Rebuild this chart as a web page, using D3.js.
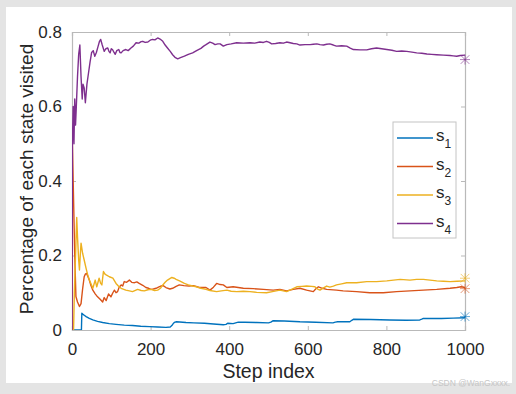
<!DOCTYPE html>
<html>
<head>
<meta charset="utf-8">
<script src="https://cdn.jsdelivr.net/npm/d3@7"></script>
<style>
  html, body { margin: 0; padding: 0; background: #e4e4e4; }
  svg { display: block; font-family: "Liberation Sans", Arial, sans-serif; }
</style>
</head>
<body>
<div id="chart"></div>
<script>
// [step, fraction of visits]
const s1 = [[0,0],[24,0],[25,0.045],[28,0.042],[32,0.039],[36,0.036],[44,0.031],[53,0.027],[65,0.023],[78,0.02],[95,0.017],[112,0.015],[133,0.013],[154,0.012],[175,0.01],[197,0.009],[218,0.008],[239,0.007],[250,0.008],[254,0.012],[258,0.018],[262,0.021],[266,0.022],[290,0.02],[310,0.019],[337,0.018],[360,0.016],[385,0.014],[392,0.015],[396,0.018],[410,0.017],[423,0.021],[440,0.021],[470,0.02],[500,0.019],[506,0.021],[512,0.025],[540,0.024],[580,0.022],[620,0.021],[664,0.019],[670,0.021],[676,0.022],[707,0.022],[712,0.026],[716,0.029],[760,0.028],[809,0.027],[850,0.026],[885,0.027],[890,0.029],[894,0.031],[940,0.031],[970,0.032],[1000,0.033]];
const s2 = [[0,0],[1,0.5],[3,0.4],[5,0.3],[7,0.2],[10,0.09],[14,0.075],[19,0.063],[23,0.071],[27,0.11],[31,0.143],[34,0.15],[37,0.152],[40,0.145],[44,0.134],[48,0.12],[53,0.107],[59,0.097],[65,0.089],[71,0.083],[78,0.075],[82,0.087],[87,0.079],[93,0.097],[99,0.089],[104,0.1],[108,0.107],[112,0.1],[116,0.103],[120,0.115],[125,0.121],[129,0.118],[133,0.13],[139,0.128],[146,0.134],[152,0.128],[159,0.127],[165,0.129],[171,0.125],[180,0.12],[188,0.114],[195,0.112],[201,0.109],[207,0.11],[214,0.112],[220,0.115],[226,0.118],[232,0.119],[239,0.114],[249,0.11],[256,0.112],[265,0.117],[273,0.121],[285,0.119],[298,0.118],[309,0.119],[324,0.114],[341,0.114],[351,0.107],[360,0.115],[368,0.125],[377,0.122],[385,0.121],[394,0.114],[410,0.116],[436,0.112],[461,0.111],[487,0.109],[512,0.107],[529,0.109],[546,0.105],[563,0.109],[580,0.112],[597,0.107],[614,0.103],[620,0.11],[627,0.116],[637,0.112],[648,0.109],[673,0.107],[690,0.105],[724,0.103],[758,0.1],[792,0.1],[826,0.103],[860,0.105],[894,0.107],[928,0.109],[962,0.112],[979,0.114],[990,0.116],[1000,0.114]];
const s3 = [[0,0],[4,0],[6,0.1],[9,0.2],[12,0.302],[14,0.25],[17,0.188],[19,0.161],[21,0.2],[23,0.233],[27,0.206],[31,0.188],[36,0.165],[40,0.148],[44,0.135],[48,0.125],[53,0.112],[59,0.134],[63,0.116],[69,0.139],[73,0.125],[76,0.121],[80,0.157],[84,0.15],[87,0.148],[95,0.143],[104,0.139],[112,0.125],[118,0.118],[125,0.112],[137,0.107],[146,0.105],[154,0.103],[167,0.109],[176,0.106],[184,0.105],[193,0.108],[201,0.109],[210,0.106],[218,0.107],[225,0.112],[231,0.121],[237,0.128],[243,0.134],[249,0.138],[254,0.141],[260,0.139],[265,0.136],[275,0.131],[286,0.125],[296,0.121],[307,0.118],[317,0.116],[328,0.112],[341,0.109],[351,0.106],[368,0.103],[380,0.105],[394,0.107],[405,0.104],[419,0.103],[436,0.104],[453,0.103],[470,0.101],[495,0.1],[510,0.103],[529,0.107],[546,0.103],[560,0.11],[572,0.116],[585,0.117],[597,0.118],[610,0.117],[618,0.116],[625,0.11],[631,0.107],[640,0.113],[648,0.118],[656,0.115],[665,0.118],[673,0.121],[686,0.124],[699,0.127],[724,0.127],[750,0.13],[775,0.13],[801,0.132],[818,0.134],[835,0.136],[860,0.134],[877,0.136],[894,0.136],[911,0.134],[928,0.132],[945,0.131],[962,0.13],[980,0.131],[1000,0.132]];
const s4 = [[0,0],[1,0.5],[3,0.6],[5,0.5],[7,0.62],[9,0.55],[11,0.6],[14,0.68],[17,0.74],[20,0.765],[23,0.68],[26,0.62],[28,0.66],[31,0.65],[34,0.61],[38,0.66],[42,0.69],[46,0.72],[50,0.745],[54,0.75],[58,0.735],[62,0.745],[66,0.76],[70,0.775],[73,0.78],[77,0.765],[82,0.748],[86,0.755],[91,0.757],[94,0.748],[97,0.744],[100,0.755],[103,0.753],[107,0.745],[110,0.74],[114,0.75],[119,0.753],[122,0.745],[125,0.744],[130,0.75],[137,0.753],[143,0.75],[150,0.757],[156,0.762],[163,0.771],[170,0.77],[176,0.774],[180,0.775],[186,0.772],[193,0.773],[199,0.778],[205,0.78],[211,0.779],[218,0.784],[224,0.781],[231,0.775],[237,0.765],[243,0.757],[250,0.748],[256,0.739],[262,0.732],[269,0.728],[276,0.731],[286,0.735],[296,0.74],[307,0.744],[317,0.75],[328,0.756],[335,0.762],[341,0.766],[351,0.773],[358,0.77],[364,0.766],[371,0.768],[377,0.768],[385,0.762],[394,0.766],[405,0.768],[419,0.771],[436,0.77],[453,0.771],[465,0.77],[478,0.773],[487,0.772],[495,0.775],[502,0.772],[508,0.768],[518,0.769],[529,0.771],[538,0.77],[546,0.773],[555,0.771],[563,0.769],[572,0.768],[580,0.765],[593,0.766],[606,0.766],[614,0.767],[623,0.768],[631,0.766],[640,0.765],[648,0.767],[656,0.768],[665,0.765],[673,0.762],[686,0.763],[699,0.762],[708,0.757],[716,0.753],[733,0.752],[750,0.752],[762,0.755],[775,0.757],[788,0.755],[801,0.753],[814,0.751],[826,0.748],[839,0.749],[852,0.748],[865,0.746],[877,0.744],[890,0.743],[903,0.741],[915,0.74],[928,0.739],[945,0.738],[962,0.737],[970,0.736],[979,0.735],[988,0.737],[1000,0.738]];

// stationary values marked with '*' at the last step
const finalMarks = [0.036, 0.111, 0.139, 0.726];

const seriesNames = ['1', '2', '3', '4'];
const colors = ['#0072BD', '#D95319', '#EDB120', '#7E2F8E'];
const xTicks = [0, 200, 400, 600, 800, 1000];
const yTicks = [0, 0.2, 0.4, 0.6, 0.8];

const W = 516, H = 394;
const margin = { top: 32, right: 51, bottom: 64, left: 72 };
const width = W - margin.left - margin.right;
const height = H - margin.top - margin.bottom;

const svg = d3.select('#chart').append('svg')
  .attr('width', W)
  .attr('height', H);

// white panel of the screenshot
svg.append('rect')
  .attr('x', 6).attr('y', 7)
  .attr('width', 506).attr('height', 376)
  .attr('fill', '#ffffff');

const g = svg.append('g')
  .attr('transform', `translate(${margin.left},${margin.top})`);

const x = d3.scaleLinear().domain([0, 1000]).range([0, width]);
const y = d3.scaleLinear().domain([0, 0.8]).range([height, 0]);

const axisCol = '#b9b9b9';
const fmtY = d => d === 0 ? '0' : d3.format('.1f')(d);

// box axes, ticks pointing inwards (MATLAB style)
const xb = g.append('g').attr('transform', `translate(0,${height})`)
  .call(d3.axisBottom(x).tickValues(xTicks).tickSize(-4).tickPadding(10).tickFormat(d3.format('d')));
const xt = g.append('g')
  .call(d3.axisTop(x).tickValues(xTicks).tickSize(-4).tickFormat(''));
const yl = g.append('g')
  .call(d3.axisLeft(y).tickValues(yTicks).tickSize(-4).tickPadding(10).tickFormat(fmtY));
const yr = g.append('g').attr('transform', `translate(${width},0)`)
  .call(d3.axisRight(y).tickValues(yTicks).tickSize(-4).tickFormat(''));

[xb, xt, yl, yr].forEach(a => {
  a.select('.domain').attr('stroke', axisCol).attr('stroke-width', 1.2);
  a.selectAll('.tick line').attr('stroke', axisCol);
  a.selectAll('.tick text').attr('fill', '#262626').style('font-size', '17px');
});
xb.selectAll('.tick text').attr('dy', '0.9em');

const line = d3.line()
  .x(d => x(d[0]))
  .y(d => y(d[1]));

g.append('clipPath').attr('id', 'plotclip')
  .append('rect').attr('width', width).attr('height', height);

const allSeries = [s1, s2, s3, s4];
const lines = g.append('g').attr('clip-path', 'url(#plotclip)');
allSeries.forEach((s, i) => {
  lines.append('path')
    .datum(s)
    .attr('fill', 'none')
    .attr('stroke', colors[i])
    .attr('stroke-width', 1.4)
    .attr('stroke-linejoin', 'round')
    .attr('d', line);
});

// asterisk markers at step 1000
finalMarks.forEach((v, i) => {
  const m = g.append('g')
    .attr('transform', `translate(${x(1000)},${y(v)})`)
    .attr('fill', 'none')
    .attr('stroke', colors[i])
    .attr('stroke-opacity', 0.6)
    .attr('stroke-width', 1);
  m.append('path').attr('d', d3.symbol().type(d3.symbolTimes).size(50)());
  m.append('path').attr('d', 'M-5,0H5M0,-5V5');
});

// legend
const legend = g.append('g').attr('transform', `translate(${393 - margin.left},${122 - margin.top})`);
legend.append('rect')
  .attr('width', 63).attr('height', 116)
  .attr('fill', '#ffffff')
  .attr('stroke', '#c4c4c4');
seriesNames.forEach((n, i) => {
  const ly = 16 + i * 28.5;
  legend.append('line')
    .attr('x1', 4).attr('x2', 40)
    .attr('y1', ly).attr('y2', ly)
    .attr('stroke', colors[i]).attr('stroke-width', 1.5);
  const t = legend.append('text')
    .attr('x', 43).attr('y', ly + 3)
    .attr('fill', '#262626')
    .style('font-size', '17px');
  t.append('tspan').text('s');
  t.append('tspan').attr('dy', 7).style('font-size', '12px').text(n);
});

// axis titles
g.append('text')
  .attr('x', width / 2)
  .attr('y', height + 48)
  .attr('text-anchor', 'middle')
  .attr('fill', '#262626')
  .style('font-size', '19.5px')
  .text('Step index');

g.append('text')
  .attr('transform', 'rotate(-90)')
  .attr('x', -height / 2 + 2)
  .attr('y', -39)
  .attr('text-anchor', 'middle')
  .attr('fill', '#262626')
  .style('font-size', '19px')
  .text('Percentage of each state visited');

// watermark
svg.append('text')
  .attr('x', 510).attr('y', 386)
  .attr('text-anchor', 'end')
  .attr('fill', '#c6c6c6')
  .style('font-size', '8.5px')
  .text('CSDN @WanGxxxx.');
</script>
</body>
</html>
